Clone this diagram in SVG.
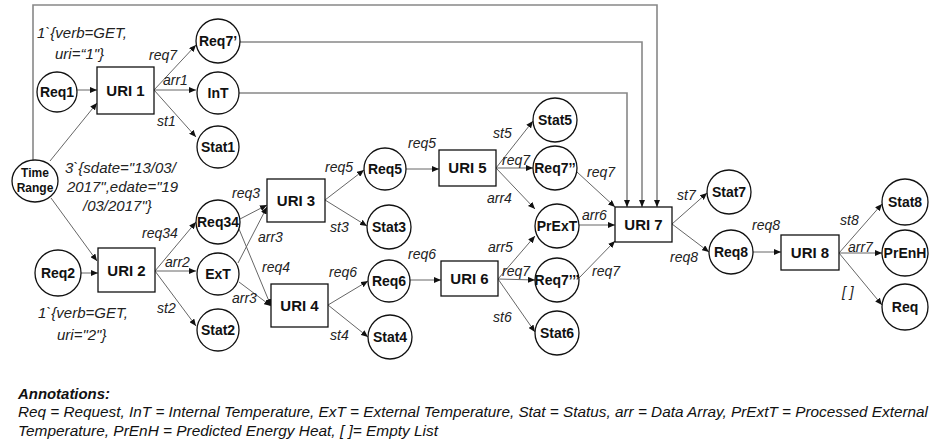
<svg xmlns="http://www.w3.org/2000/svg" width="935" height="448" viewBox="0 0 935 448">
<defs>
<marker id="ah" markerWidth="7" markerHeight="6" refX="7" refY="3" orient="auto" markerUnits="userSpaceOnUse">
<path d="M0,0 L7,3 L0,6 z" fill="#111"/>
</marker>
<style>
.n{fill:#fff;stroke:#111;stroke-width:1.3}
.t{font-family:"Liberation Sans",Arial,sans-serif;font-weight:bold;font-size:14px;fill:#111;text-anchor:middle}
.u{font-size:15px}
.e{fill:none;stroke:#666;stroke-width:1;marker-end:url(#ah)}
.l{fill:none;stroke:#888;stroke-width:1.6;marker-end:url(#ah)}
.lb{font-family:"Liberation Sans",Arial,sans-serif;font-style:italic;font-size:14px;fill:#222}
.nt{font-family:"Liberation Sans",Arial,sans-serif;font-style:italic;font-size:15px;fill:#222}
.an{font-family:"Liberation Sans",Arial,sans-serif;font-style:italic;font-size:14px;fill:#111}
</style>
</defs>
<rect width="935" height="448" fill="#fff"/>
<g id="connectors">
<line class="e" x1="77" y1="90" x2="97" y2="90"/>
<line class="e" x1="50" y1="161" x2="97" y2="103"/>
<polyline class="l" points="33,160 33,5 657,5 657,207"/>
<line class="e" x1="51" y1="198" x2="97" y2="261"/>
<line class="e" x1="81" y1="273" x2="98" y2="273"/>
<line class="e" x1="154" y1="90" x2="196" y2="45"/>
<line class="e" x1="154" y1="90" x2="196" y2="90"/>
<line class="e" x1="154" y1="90" x2="196" y2="137"/>
<polyline class="l" points="240,42 642,42 642,207"/>
<polyline class="l" points="239,93 627,93 627,207"/>
<line class="e" x1="155" y1="271" x2="196" y2="222"/>
<line class="e" x1="155" y1="271" x2="196" y2="271"/>
<line class="e" x1="155" y1="271" x2="196" y2="326"/>
<line class="e" x1="240" y1="219" x2="267" y2="205"/>
<line class="e" x1="238" y1="263" x2="267" y2="207"/>
<line class="e" x1="239" y1="229" x2="271" y2="306"/>
<line class="e" x1="239" y1="282" x2="271" y2="306"/>
<line class="e" x1="325" y1="200" x2="364" y2="170"/>
<line class="e" x1="325" y1="200" x2="367" y2="226"/>
<line class="e" x1="328" y1="305" x2="368" y2="281"/>
<line class="e" x1="328" y1="305" x2="368" y2="337"/>
<line class="e" x1="406" y1="169" x2="439" y2="169"/>
<line class="e" x1="410" y1="280" x2="441" y2="280"/>
<line class="e" x1="496" y1="168" x2="533" y2="121"/>
<line class="e" x1="496" y1="168" x2="533" y2="168"/>
<line class="e" x1="496" y1="168" x2="535" y2="209"/>
<line class="e" x1="498" y1="279" x2="535" y2="236"/>
<line class="e" x1="498" y1="279" x2="535" y2="280"/>
<line class="e" x1="498" y1="279" x2="535" y2="332"/>
<line class="e" x1="577" y1="172" x2="615" y2="207"/>
<line class="e" x1="579" y1="225" x2="615" y2="225"/>
<line class="e" x1="579" y1="278" x2="615" y2="241"/>
<line class="e" x1="672" y1="224" x2="707" y2="193"/>
<line class="e" x1="672" y1="224" x2="709" y2="252"/>
<line class="e" x1="753" y1="252" x2="781" y2="252"/>
<line class="e" x1="839" y1="253" x2="882" y2="204"/>
<line class="e" x1="839" y1="253" x2="882" y2="253"/>
<line class="e" x1="839" y1="253" x2="882" y2="305"/>
</g>
<g id="edge-labels">
<text class="lb" x="149" y="60">req7</text>
<text class="lb" x="163" y="85">arr1</text>
<text class="lb" x="157" y="126">st1</text>
<text class="lb" x="142" y="238">req34</text>
<text class="lb" x="165" y="267">arr2</text>
<text class="lb" x="157" y="313">st2</text>
<text class="lb" x="232" y="198">req3</text>
<text class="lb" x="258" y="242">arr3</text>
<text class="lb" x="262" y="272">req4</text>
<text class="lb" x="232" y="303">arr3</text>
<text class="lb" x="325" y="172">req5</text>
<text class="lb" x="330" y="232">st3</text>
<text class="lb" x="329" y="277">req6</text>
<text class="lb" x="330" y="340">st4</text>
<text class="lb" x="408" y="148">req5</text>
<text class="lb" x="408" y="259">req6</text>
<text class="lb" x="493" y="138">st5</text>
<text class="lb" x="502" y="165">req7</text>
<text class="lb" x="487" y="203">arr4</text>
<text class="lb" x="488" y="252">arr5</text>
<text class="lb" x="502" y="276">req7</text>
<text class="lb" x="493" y="322">st6</text>
<text class="lb" x="587" y="177">req7</text>
<text class="lb" x="582" y="220">arr6</text>
<text class="lb" x="592" y="276">req7</text>
<text class="lb" x="677" y="200">st7</text>
<text class="lb" x="670" y="262">req8</text>
<text class="lb" x="752" y="230">req8</text>
<text class="lb" x="840" y="225">st8</text>
<text class="lb" x="848" y="252">arr7</text>
<text class="lb" x="842" y="297">[ ]</text>
</g>
<g id="notes">
<text class="nt" x="37" y="38">1`{verb=GET,</text>
<text class="nt" x="55" y="59">uri=“1"}</text>
<text class="nt" x="65" y="173">3`{sdate="13/03/</text>
<text class="nt" x="67" y="192">2017",edate="19</text>
<text class="nt" x="83" y="211">/03/2017"}</text>
<text class="nt" x="38" y="318">1`{verb=GET,</text>
<text class="nt" x="57" y="340">uri="2"}</text>
</g>
<g id="Req1"><circle class="n" cx="57" cy="92" r="20"/><text class="t" x="57" y="97">Req1</text></g>
<g id="TimeRange"><ellipse class="n" cx="35" cy="181" rx="23" ry="21"/><text class="t" x="35" y="177" style="font-size:12px">Time</text><text class="t" x="35" y="192" style="font-size:12px">Range</text></g>
<g id="Req2"><circle class="n" cx="58" cy="273" r="23"/><text class="t" x="58" y="278">Req2</text></g>
<g id="URI1"><rect class="n" x="97" y="67" width="57" height="47"/><text class="t u" x="125.5" y="96">URI 1</text></g>
<g id="URI2"><rect class="n" x="98" y="248" width="57" height="44"/><text class="t u" x="126.5" y="276">URI 2</text></g>
<g id="Req7p"><circle class="n" cx="218" cy="41" r="22"/><text class="t" x="218" y="46">Req7’</text></g>
<g id="InT"><circle class="n" cx="218" cy="93" r="21"/><text class="t" x="218" y="98">InT</text></g>
<g id="Stat1"><circle class="n" cx="218" cy="147" r="21"/><text class="t" x="218" y="152">Stat1</text></g>
<g id="Req34"><circle class="n" cx="218" cy="222" r="22"/><text class="t" x="218" y="227">Req34</text></g>
<g id="ExT"><circle class="n" cx="218" cy="274" r="21"/><text class="t" x="218" y="279">ExT</text></g>
<g id="Stat2"><circle class="n" cx="218" cy="330" r="21"/><text class="t" x="218" y="335">Stat2</text></g>
<g id="URI3"><rect class="n" x="267" y="179" width="58" height="43"/><text class="t u" x="296" y="206">URI 3</text></g>
<g id="URI4"><rect class="n" x="271" y="284" width="57" height="43"/><text class="t u" x="299.5" y="311">URI 4</text></g>
<g id="Req5"><circle class="n" cx="385" cy="169" r="21"/><text class="t" x="385" y="174">Req5</text></g>
<g id="Stat3"><circle class="n" cx="389" cy="227" r="22"/><text class="t" x="389" y="232">Stat3</text></g>
<g id="Req6"><circle class="n" cx="389" cy="281" r="21"/><text class="t" x="389" y="286">Req6</text></g>
<g id="Stat4"><circle class="n" cx="390" cy="337" r="22"/><text class="t" x="390" y="342">Stat4</text></g>
<g id="URI5"><rect class="n" x="439" y="150" width="57" height="36"/><text class="t u" x="467.5" y="173">URI 5</text></g>
<g id="URI6"><rect class="n" x="441" y="261" width="57" height="35"/><text class="t u" x="469.5" y="284">URI 6</text></g>
<g id="Stat5"><circle class="n" cx="555" cy="120" r="22"/><text class="t" x="555" y="125">Stat5</text></g>
<g id="Req7pp"><circle class="n" cx="555" cy="168" r="22"/><text class="t" x="555" y="173">Req7’’</text></g>
<g id="PrExT"><circle class="n" cx="557" cy="226" r="22"/><text class="t" x="557" y="231">PrExT</text></g>
<g id="Req7ppp"><circle class="n" cx="557" cy="280" r="22"/><text class="t" x="557" y="285">Req7’’’</text></g>
<g id="Stat6"><circle class="n" cx="557" cy="333" r="22"/><text class="t" x="557" y="338">Stat6</text></g>
<g id="URI7"><rect class="n" x="615" y="207" width="57" height="35"/><text class="t u" x="643.5" y="230">URI 7</text></g>
<g id="Stat7"><circle class="n" cx="729" cy="192" r="22"/><text class="t" x="729" y="197">Stat7</text></g>
<g id="Req8"><circle class="n" cx="731" cy="252" r="22"/><text class="t" x="731" y="257">Req8</text></g>
<g id="URI8"><rect class="n" x="781" y="235" width="58" height="35"/><text class="t u" x="810" y="258">URI 8</text></g>
<g id="Stat8"><circle class="n" cx="905" cy="202" r="23"/><text class="t" x="905" y="207">Stat8</text></g>
<g id="PrEnH"><circle class="n" cx="905" cy="253" r="23"/><text class="t" x="905" y="258">PrEnH</text></g>
<g id="Req"><circle class="n" cx="905" cy="307" r="23"/><text class="t" x="905" y="312">Req</text></g>
<g id="annotations">
<text class="an" x="18" y="399" style="font-weight:bold" textLength="92" lengthAdjust="spacingAndGlyphs">Annotations:</text>
<text class="an" x="18" y="417" textLength="910" lengthAdjust="spacingAndGlyphs">Req = Request, InT = Internal Temperature, ExT = External Temperature, Stat = Status, arr = Data Array, PrExtT = Processed External</text>
<text class="an" x="18" y="436" textLength="420" lengthAdjust="spacingAndGlyphs">Temperature, PrEnH = Predicted Energy Heat, [ ]= Empty List</text>
</g>
</svg>
